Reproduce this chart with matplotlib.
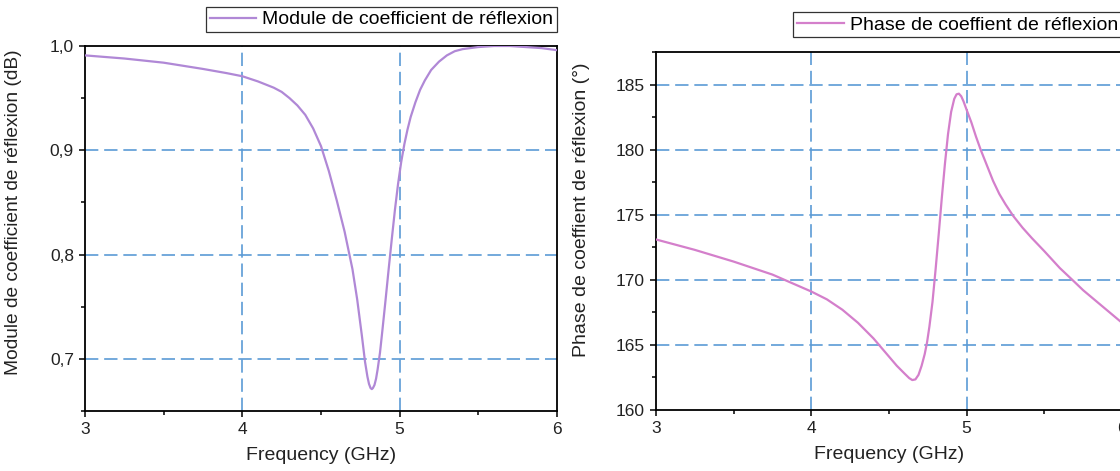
import matplotlib
matplotlib.use("Agg")
import matplotlib.pyplot as plt
from matplotlib.ticker import MultipleLocator, FuncFormatter

plt.rcParams['font.family'] = ['Liberation Sans', 'DejaVu Sans']

# Reflection coefficient magnitude vs frequency
freq_mod = [3.00, 3.25, 3.50, 3.75, 3.90, 4.00, 4.10, 4.20, 4.25, 4.30, 4.35,
            4.40, 4.45, 4.50, 4.55, 4.60, 4.65, 4.70, 4.73, 4.76, 4.78, 4.795,
            4.805, 4.815, 4.823, 4.83, 4.84, 4.85, 4.86, 4.875, 4.89, 4.91,
            4.93, 4.95, 4.97, 4.99, 5.01, 5.03, 5.05, 5.07, 5.10, 5.13, 5.16,
            5.20, 5.25, 5.30, 5.35, 5.40, 5.50, 5.60, 5.70, 5.80, 5.90, 6.00]
mod_vals = [0.991, 0.988, 0.984, 0.978, 0.974, 0.971, 0.966, 0.960, 0.956,
            0.950, 0.943, 0.934, 0.921, 0.904, 0.880, 0.852, 0.822, 0.786,
            0.757, 0.722, 0.697, 0.683, 0.676, 0.672, 0.671, 0.672, 0.675,
            0.681, 0.690, 0.706, 0.727, 0.756, 0.786, 0.815, 0.843, 0.868,
            0.889, 0.906, 0.920, 0.932, 0.946, 0.958, 0.967, 0.977, 0.985,
            0.991, 0.995, 0.997, 0.999, 1.000, 1.000, 0.999, 0.998, 0.996]

# Reflection coefficient phase vs frequency
freq_phase = [3.00, 3.25, 3.50, 3.75, 4.00, 4.10, 4.20, 4.30, 4.40, 4.45, 4.50,
              4.55, 4.60, 4.63, 4.65, 4.67, 4.69, 4.71, 4.73, 4.745, 4.76, 4.78,
              4.80, 4.82, 4.84, 4.86, 4.88, 4.90, 4.92, 4.935, 4.95, 4.965,
              4.98, 5.00, 5.03, 5.06, 5.09, 5.13, 5.17, 5.21, 5.25, 5.30, 5.36,
              5.42, 5.50, 5.60, 5.68, 5.75, 5.81, 5.90, 6.00]
phase_vals = [173.1, 172.3, 171.4, 170.4, 169.1, 168.5, 167.7, 166.7, 165.5,
              164.8, 164.1, 163.4, 162.8, 162.45, 162.3, 162.35, 162.7, 163.4,
              164.3, 165.2, 166.4, 168.3, 170.8, 173.5, 176.3, 178.9, 181.2,
              182.9, 183.9, 184.25, 184.3, 184.1, 183.7, 183.05, 182.1, 181.0,
              180.0, 178.8, 177.6, 176.6, 175.8, 174.9, 174.0, 173.2, 172.2,
              170.9, 170.0, 169.2, 168.6, 167.7, 166.7]

x_ticks = [3, 4, 5, 6]
mod_ticks = [0.7, 0.8, 0.9, 1.0]
phase_ticks = [160, 165, 170, 175, 180, 185]

mod_color = '#b088d6'
phase_color = '#d47fcb'
grid_color = '#5b9bd5'
text_color = '#222222'

fig = plt.figure(figsize=(11.2, 4.71), dpi=100)
ax1 = fig.add_axes([85 / 1120, 60 / 471, 472 / 1120, 365 / 471])
ax2 = fig.add_axes([656 / 1120, 61 / 471, 466 / 1120, 358 / 471])


def style_axes(ax):
    for sp in ax.spines.values():
        sp.set_linewidth(1.3)
        sp.set_color('black')
    ax.tick_params(which='both', direction='out', top=False, right=False,
                   colors='black', labelcolor=text_color, labelsize=12.5, width=1.1)
    ax.tick_params(which='major', length=4.5)
    ax.tick_params(which='minor', length=3)
    ax.set_xlim(3, 6)
    ax.set_xticks(x_ticks)
    ax.xaxis.set_minor_locator(MultipleLocator(0.5))
    ax.set_xlabel('Frequency (GHz)', fontsize=14, color=text_color, labelpad=7)
    for xv in x_ticks[1:-1]:
        ax.axvline(xv, color=grid_color, lw=1.2, ls=(0, (8, 3.5)), zorder=1)


# Magnitude panel
style_axes(ax1)
ax1.set_ylim(0.65, 1.0)
ax1.set_yticks(mod_ticks)
ax1.yaxis.set_minor_locator(MultipleLocator(0.05))
ax1.yaxis.set_major_formatter(FuncFormatter(lambda v, p: f'{v:.1f}'.replace('.', ',')))
for yv in mod_ticks[:-1]:
    ax1.axhline(yv, color=grid_color, lw=1.2, ls=(0, (8, 3.5)), zorder=1)
ax1.plot(freq_mod, mod_vals, color=mod_color, lw=1.6, zorder=3,
         label='Module de coefficient de réflexion')
ax1.set_ylabel('Module de coefficient de réflexion (dB)', fontsize=13.8, color=text_color)
ax1.yaxis.set_label_coords(-0.133, 0.545)
leg1 = ax1.legend(loc='upper right', bbox_to_anchor=(557 / 1120, 1 - 7 / 471),
                  bbox_transform=fig.transFigure, fancybox=False, framealpha=1,
                  edgecolor='#333333', fontsize=14, handlelength=2.4,
                  handletextpad=0.3, borderpad=0.2, borderaxespad=0)
leg1.get_frame().set_linewidth(0.9)

# Phase panel
style_axes(ax2)
ax2.set_ylim(160, 187.5)
ax2.set_yticks(phase_ticks)
ax2.yaxis.set_minor_locator(MultipleLocator(2.5))
for yv in phase_ticks[1:]:
    ax2.axhline(yv, color=grid_color, lw=1.2, ls=(0, (8, 3.5)), zorder=1)
ax2.plot(freq_phase, phase_vals, color=phase_color, lw=1.6, zorder=3,
         label='Phase de coeffient de réflexion')
ax2.set_ylabel('Phase de coeffient de réflexion (°)', fontsize=14, color=text_color)
ax2.yaxis.set_label_coords(-0.142, 0.56)
leg2 = ax2.legend(loc='upper right', bbox_to_anchor=(1122 / 1120, 1 - 12 / 471),
                  bbox_transform=fig.transFigure, fancybox=False, framealpha=1,
                  edgecolor='#333333', fontsize=14, handlelength=2.4,
                  handletextpad=0.3, borderpad=0.2, borderaxespad=0)
leg2.get_frame().set_linewidth(0.9)

fig.savefig('out.png', dpi=100, facecolor='white')
